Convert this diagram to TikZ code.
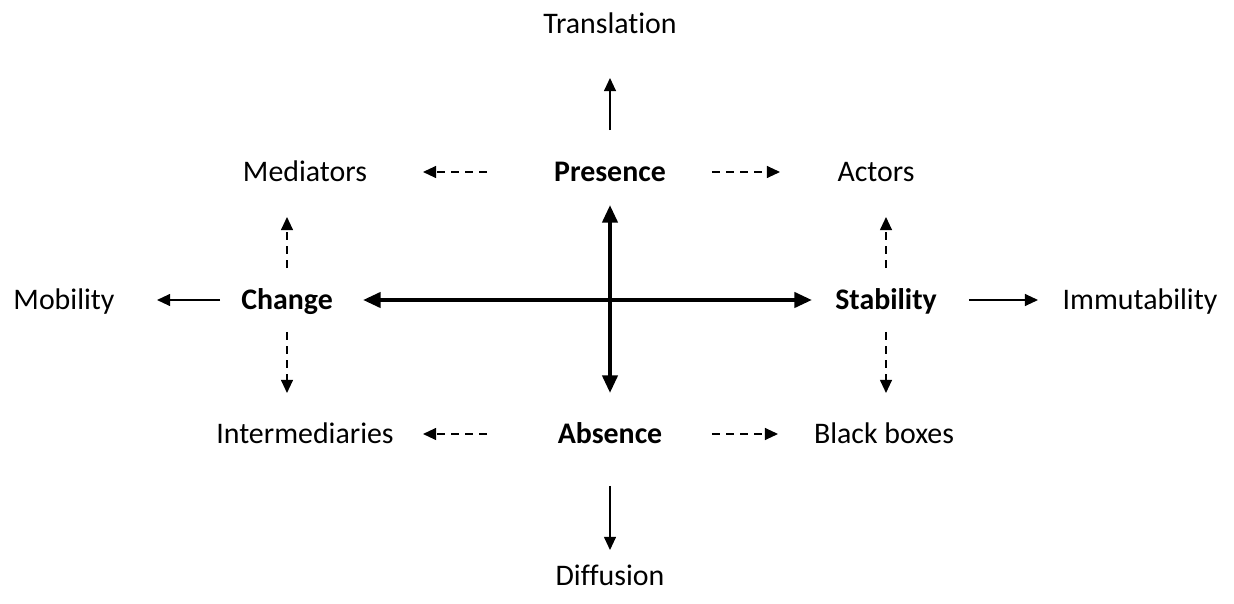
\documentclass[tikz,border=0pt]{standalone}
\usepackage{fontspec}
\setmainfont{Carlito}[RawFeature=-liga]
\usepackage{tikz}
\usetikzlibrary{arrows.meta, positioning, calc}

\begin{document}
\begin{tikzpicture}[
  x=0.02cm, y=-0.02cm,
  lbl/.style={inner sep=0pt, text height=11pt, text depth=0pt, font=\fontsize{17}{20}\selectfont},
  key/.style={lbl, font=\fontsize{17}{20}\selectfont\bfseries},
  arr/.style={-{Triangle[length=7.5pt,width=6.8pt]}, line width=0.9pt},
  dsh/.style={arr, dash pattern=on 4.5pt off 3.5pt},
  big/.style={{Triangle[length=10pt,width=8.5pt]}-{Triangle[length=10pt,width=8.5pt]}, line width=2.3pt},
]
\useasboundingbox (0,0) rectangle (1234,604);

% centre and axes
\node[key] (pres) at (610,172) {Presence};
\node[key] (abs)  at (610,434) {Absence};
\node[key] (chg)  at (287,300) {Change};
\node[key] (stab) at (886,300) {Stability};

% outer labels
\node[lbl] (trans) at (610,24)   {Translation};
\node[lbl] (diff)  at (610,576)  {Diffusion};
\node[lbl] (med)   at (305,172)  {Mediators};
\node[lbl] (act)   at (876,172)  {Actors};
\node[lbl] (inter) at (305,434)  {Intermediaries};
\node[lbl] (bb)    at (884,434)  {Black boxes};
\node[lbl] (mob)   at (64,300)   {Mobility};
\node[lbl] (imm)   at (1140,300) {Immutability};

% thick cross
\draw[big, shorten <=1.52cm, shorten >=1.48cm] (chg.center) -- (stab.center);
\draw[big, shorten <=0.66cm, shorten >=0.82cm] (pres.center) -- (abs.center);

% solid arrows
\draw[arr, shorten <=0.84cm, shorten >=1.08cm] (pres.center) -- (trans.center);
\draw[arr, shorten <=1.04cm, shorten >=0.52cm] (abs.center) -- (diff.center);
\draw[arr, shorten <=1.34cm, shorten >=1.86cm] (chg.center) -- (mob.center);
\draw[arr, shorten <=1.66cm, shorten >=2.04cm] (stab.center) -- (imm.center);

% dashed arrows
\draw[dsh, shorten <=2.46cm, shorten >=2.36cm] (pres.center) -- (med.center);
\draw[dsh, shorten <=2.04cm, shorten >=1.92cm] (pres.center) -- (act.center);
\draw[dsh, shorten <=2.46cm, shorten >=2.36cm] (abs.center) -- (inter.center);
\draw[dsh, shorten <=2.04cm, shorten >=2.12cm] (abs.center) -- (bb.center);
\draw[dsh, shorten <=0.64cm, shorten >=0.90cm] (chg.center) -- (chg |- med);
\draw[dsh, shorten <=0.64cm, shorten >=0.82cm] (chg.center) -- (chg |- inter);
\draw[dsh, shorten <=0.64cm, shorten >=0.90cm] (stab.center) -- (stab |- act);
\draw[dsh, shorten <=0.64cm, shorten >=0.82cm] (stab.center) -- (stab |- bb);
\end{tikzpicture}
\end{document}
